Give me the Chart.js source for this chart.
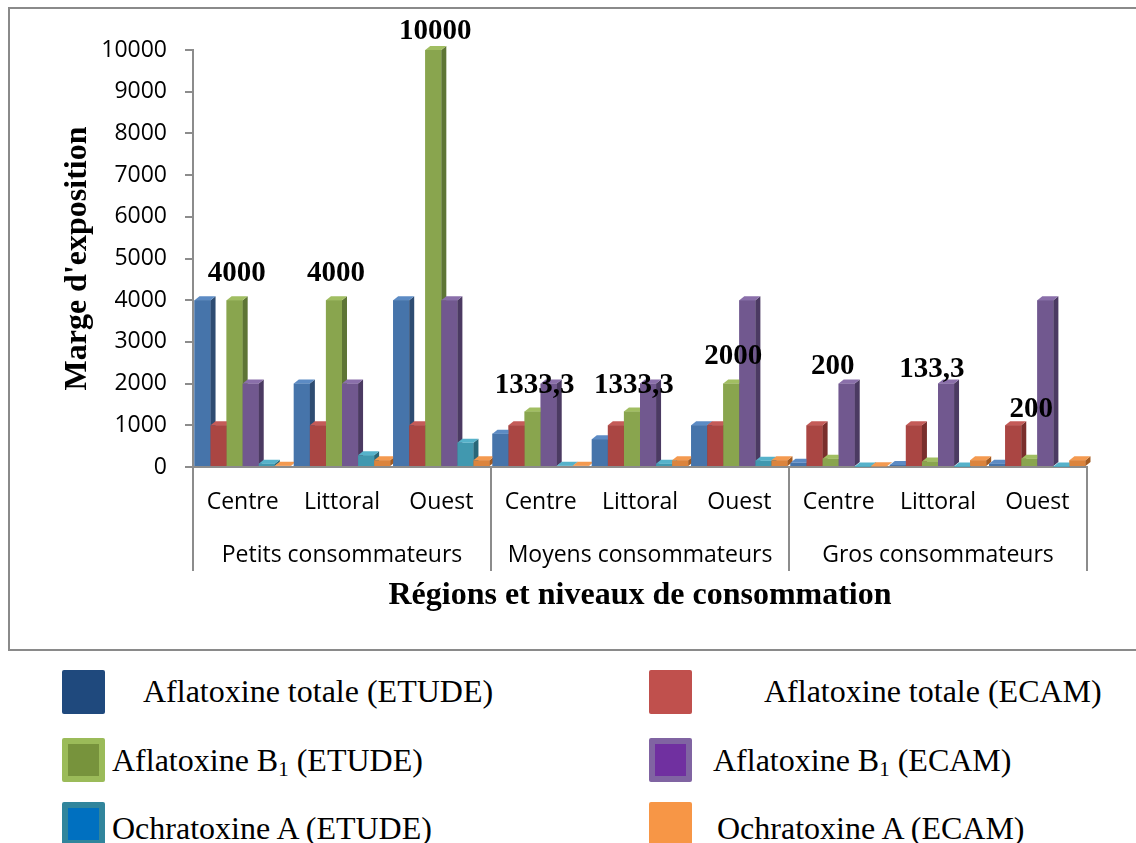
<!DOCTYPE html>
<html>
<head>
<meta charset="utf-8">
<script src="https://cdn.jsdelivr.net/npm/chart.js@4.4.0/dist/chart.umd.min.js"></script>
<style>
    body { margin: 0; background: #fff; }
    #zone { position: relative; width: 1136px; height: 843px; overflow: hidden; }
    #graf { position: absolute; left: 0; top: 0; }
    .leg { position: absolute; font-family: "Liberation Serif", "Times New Roman", serif; font-size: 32px; color: #000; line-height: 36px; white-space: nowrap; }
    .leg sub { font-size: 21px; vertical-align: -5px; line-height: 0; }
    .carre { position: absolute; width: 43px; height: 44px; border-radius: 2px; box-sizing: border-box; }
</style>
</head>
<body>
<div id="zone">
    <canvas id="graf" width="1136" height="660"></canvas>
</div>
<script>
const regioes = ['Centre', 'Littoral', 'Ouest'];
const niveis = ['Petits consommateurs', 'Moyens consommateurs', 'Gros consommateurs'];

const afla_total_etude = [4000, 2000, 4000, 800, 666.7, 1000, 100, 50, 80];
const afla_total_ecam = [1000, 1000, 1000, 1000, 1000, 1000, 1000, 1000, 1000];
const afla_b1_etude = [4000, 4000, 10000, 1333.3, 1333.3, 2000, 200, 133.3, 200];
const afla_b1_ecam = [2000, 2000, 4000, 2000, 2000, 4000, 2000, 2000, 4000];
const ochra_etude = [80, 280, 580, 30, 80, 150, 10, 10, 10];
const ochra_ecam = [30, 160, 160, 30, 160, 160, 20, 160, 160];

const nomes = ['Aflatoxine totale (ETUDE)', 'Aflatoxine totale (ECAM)', 'Aflatoxine B1 (ETUDE)',
    'Aflatoxine B1 (ECAM)', 'Ochratoxine A (ETUDE)', 'Ochratoxine A (ECAM)'];

const ticksY = [0, 1000, 2000, 3000, 4000, 5000, 6000, 7000, 8000, 9000, 10000];

// cores: frente, lado, topo
const cores = [
    ['#4674AA', '#2E4C72', '#5C8BC4'],
    ['#AA4643', '#7A2E2C', '#C45B58'],
    ['#89A54E', '#5E7535', '#A1BE62'],
    ['#71588F', '#4B3A62', '#8A6FAA'],
    ['#4198AF', '#286778', '#56B2CA'],
    ['#DB843D', '#A35B21', '#F49A50']
];

// rotulos: categoria + nivel embaixo da do meio
const rotulos = [];
niveis.forEach(n => {
    regioes.forEach((r, i) => {
        rotulos.push(i == 1 ? [r, n] : [r]);
    });
});

const series = [afla_total_etude, afla_total_ecam, afla_b1_etude, afla_b1_ecam, ochra_etude, ochra_ecam];

const barras3d = {
    id: 'barras3d',
    afterDatasetsDraw(chart) {
        const ctx = chart.ctx;
        const dx = 5, dy = 4;
        const n = chart.data.labels.length;
        ctx.save();
        for (let i = 0; i < n; i++) {
            chart.data.datasets.forEach((ds, d) => {
                const bar = chart.getDatasetMeta(d).data[i];
                const w = bar.width;
                const esq = bar.x - w / 2, dir = bar.x + w / 2;
                const y = bar.y, base = bar.base;
                const c = cores[d];
                ctx.fillStyle = c[0];
                ctx.fillRect(esq, y, w, base - y);
                ctx.fillStyle = c[1];
                ctx.beginPath();
                ctx.moveTo(dir, y);
                ctx.lineTo(dir + dx, y - dy);
                ctx.lineTo(dir + dx, base - dy);
                ctx.lineTo(dir, base);
                ctx.closePath();
                ctx.fill();
                ctx.fillStyle = c[2];
                ctx.beginPath();
                ctx.moveTo(esq, y);
                ctx.lineTo(esq + dx, y - dy);
                ctx.lineTo(dir + dx, y - dy);
                ctx.lineTo(dir, y);
                ctx.closePath();
                ctx.fill();
            });
        }
        ctx.restore();
    },
    afterDraw(chart) {
        const ctx = chart.ctx;
        const x = chart.scales.x, y = chart.scales.y;
        ctx.save();
        // moldura
        ctx.strokeStyle = '#8a8a8a';
        ctx.lineWidth = 2;
        ctx.strokeRect(9, 8, 1140, 642);
        // separadores dos niveis
        ctx.strokeStyle = '#8c8c8c';
        ctx.lineWidth = 2;
        const passo = (x.right - x.left) / chart.data.labels.length;
        for (let g = 0; g <= niveis.length; g++) {
            const px = Math.round(x.left + g * regioes.length * passo);
            ctx.beginPath();
            ctx.moveTo(px, y.bottom);
            ctx.lineTo(px, 571);
            ctx.stroke();
        }
        // valores da aflatoxine B1 (ETUDE)
        const alturaRotulo = [4650, 4650, 10450, 1950, 1950, 2650, 2420, 2330, 1370];
        const meta = chart.getDatasetMeta(2);
        ctx.fillStyle = '#000';
        ctx.font = 'bold 29px "Liberation Serif", serif';
        ctx.textAlign = 'center';
        ctx.textBaseline = 'middle';
        afla_b1_etude.forEach((v, i) => {
            const txt = String(v).replace('.', ',');
            ctx.fillText(txt, meta.data[i].x + 2, y.getPixelForValue(alturaRotulo[i]));
        });
        ctx.restore();
    }
};

function criarGrafico() {
    const ctx = document.getElementById('graf');

    new Chart(ctx, {
        type: 'bar',
        data: {
            labels: rotulos,
            datasets: series.map((s, d) => ({
                label: nomes[d],
                data: s,
                backgroundColor: cores[d][0],
                borderWidth: 0,
                categoryPercentage: 0.97,
                barPercentage: 1
            }))
        },
        options: {
            responsive: false,
            animation: false,
            layout: { padding: { left: 10, top: 50, right: 49, bottom: 10 } },
            plugins: {
                legend: { display: false },
                tooltip: { enabled: false }
            },
            scales: {
                x: {
                    afterFit: s => { s.height = 183; },
                    grid: { display: false, drawTicks: false },
                    border: { display: true, color: '#8c8c8c', width: 2 },
                    ticks: {
                        autoSkip: false,
                        maxRotation: 0,
                        minRotation: 0,
                        padding: 9,
                        color: '#000',
                        font: { family: '"Open Sans", sans-serif', size: 23, lineHeight: 2.3 }
                    },
                    title: {
                        display: true,
                        text: 'Régions et niveaux de consommation',
                        color: '#000',
                        font: { family: '"Liberation Serif", serif', size: 32, weight: 'bold', lineHeight: 1.2 },
                        padding: { top: 0, bottom: 35 }
                    }
                },
                y: {
                    min: 0,
                    max: 10000,
                    afterFit: s => { s.width = 183; },
                    afterBuildTicks: s => { s.ticks = ticksY.map(v => ({ value: v })); },
                    grid: { display: true, drawOnChartArea: false, drawTicks: true, tickLength: 8, color: '#8c8c8c', lineWidth: 2 },
                    border: { display: true, color: '#8c8c8c', width: 2 },
                    ticks: {
                        padding: 18,
                        color: '#000',
                        font: { family: '"Open Sans", sans-serif', size: 23 },
                        callback: v => String(v)
                    },
                    title: {
                        display: true,
                        text: "Marge d'exposition",
                        color: '#000',
                        font: { family: '"Liberation Serif", serif', size: 32, weight: 'bold', lineHeight: 1.2 },
                        padding: { top: 49, bottom: 0 }
                    }
                }
            }
        },
        plugins: [barras3d]
    });
}

function criarLegenda() {
    const zona = document.getElementById('zone');
    const caixas = [
        { x: 62, y: 670, fundo: '#1F497D', borda: null, tx: 143, ty: 691 },
        { x: 649, y: 670, fundo: '#C0504D', borda: null, tx: 764, ty: 691 },
        { x: 62, y: 738, fundo: '#77933C', borda: '#9BBB59', tx: 112, ty: 760 },
        { x: 649, y: 738, fundo: '#7030A0', borda: '#8064A2', tx: 713, ty: 760 },
        { x: 62, y: 802, fundo: '#0070C0', borda: '#31859C', tx: 112, ty: 828 },
        { x: 649, y: 802, fundo: '#F79646', borda: null, tx: 717, ty: 828 }
    ];
    caixas.forEach((c, i) => {
        const q = document.createElement('div');
        q.className = 'carre';
        q.style.left = c.x + 'px';
        q.style.top = c.y + 'px';
        q.style.background = c.fundo;
        if (c.borda) q.style.border = '6px solid ' + c.borda;
        zona.appendChild(q);

        const t = document.createElement('div');
        t.className = 'leg';
        t.style.left = c.tx + 'px';
        t.style.top = (c.ty - 18) + 'px';
        t.innerHTML = nomes[i].replace('B1', 'B<sub>1</sub>');
        zona.appendChild(t);
    });
}

criarGrafico();
criarLegenda();
</script>
</body>
</html>
